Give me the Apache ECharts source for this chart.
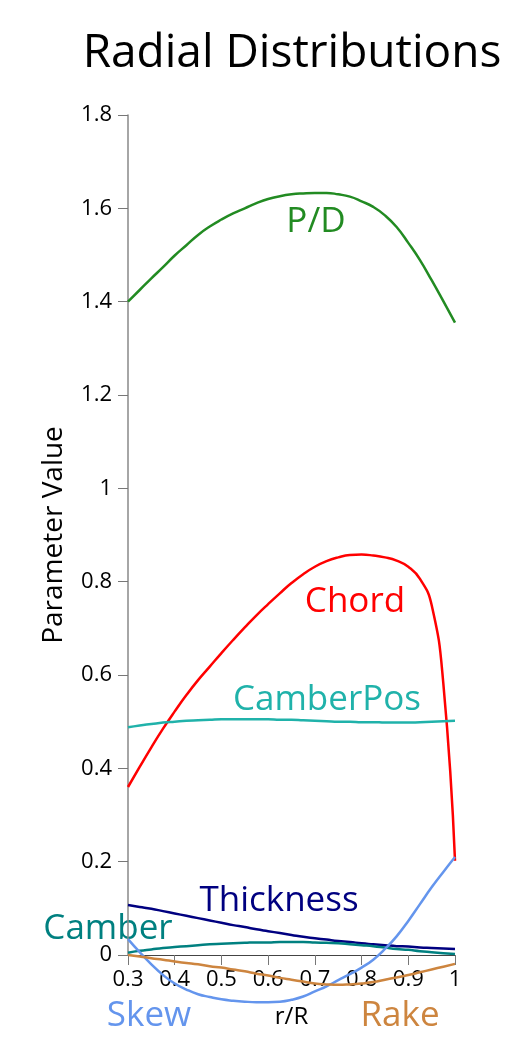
<!DOCTYPE html>
<html>
<head>
<meta charset="utf-8">
<script src="https://cdn.jsdelivr.net/npm/echarts@6/dist/echarts.min.js"></script>
<style>
  html, body { margin: 0; padding: 0; background: #fff; }
  #chart { width: 519px; height: 1049px; }
</style>
</head>
<body>
<div id="chart"></div>
<script>
// r/R stations
const rR = [0.3, 0.325, 0.35, 0.375, 0.4, 0.425, 0.45, 0.475, 0.5, 0.525, 0.55, 0.575, 0.6, 0.625, 0.65,
  0.675, 0.7, 0.725, 0.75, 0.775, 0.8, 0.825, 0.85, 0.875, 0.9, 0.925, 0.95, 0.975, 1.0];

const pitchRatio = [1.400, 1.425, 1.450, 1.474, 1.499, 1.521, 1.543, 1.561, 1.576, 1.589, 1.600, 1.611, 1.620, 1.626, 1.630,
  1.632, 1.633, 1.633, 1.630, 1.625, 1.615, 1.603, 1.585, 1.560, 1.526, 1.489, 1.446, 1.401, 1.355];
const chord = [0.360, 0.403, 0.445, 0.485, 0.522, 0.557, 0.589, 0.618, 0.647, 0.675, 0.702, 0.728, 0.752, 0.775, 0.797,
  0.816, 0.832, 0.844, 0.852, 0.857, 0.858, 0.856, 0.852, 0.845, 0.832, 0.806, 0.750, 0.582, 0.202];
const camberPos = [0.488, 0.492, 0.495, 0.498, 0.500, 0.502, 0.503, 0.504, 0.505, 0.505, 0.505, 0.505, 0.505, 0.504, 0.504,
  0.503, 0.502, 0.501, 0.500, 0.500, 0.499, 0.499, 0.498, 0.498, 0.498, 0.499, 0.500, 0.501, 0.502];
const thickness = [0.107, 0.103, 0.099, 0.094, 0.089, 0.084, 0.079, 0.074, 0.069, 0.064, 0.060, 0.055, 0.051, 0.047, 0.043,
  0.039, 0.036, 0.033, 0.030, 0.028, 0.025, 0.023, 0.021, 0.019, 0.018, 0.016, 0.015, 0.014, 0.013];
const camber = [0.005, 0.009, 0.012, 0.015, 0.017, 0.019, 0.021, 0.023, 0.024, 0.025, 0.026, 0.027, 0.027, 0.028, 0.028,
  0.028, 0.027, 0.026, 0.025, 0.023, 0.021, 0.019, 0.016, 0.013, 0.011, 0.008, 0.006, 0.004, 0.002];
const skew = [0.034, 0.006, -0.020, -0.043, -0.061, -0.074, -0.084, -0.090, -0.095, -0.098, -0.100, -0.101, -0.101, -0.100, -0.096,
  -0.089, -0.078, -0.067, -0.054, -0.041, -0.027, -0.010, 0.013, 0.040, 0.073, 0.109, 0.145, 0.178, 0.210];
const rake = [0.000, -0.003, -0.007, -0.010, -0.014, -0.017, -0.020, -0.024, -0.027, -0.031, -0.035, -0.040, -0.044, -0.049, -0.053,
  -0.057, -0.061, -0.063, -0.064, -0.063, -0.061, -0.058, -0.053, -0.048, -0.043, -0.037, -0.031, -0.025, -0.019];

const yTicks = [0, 0.2, 0.4, 0.6, 0.8, 1, 1.2, 1.4, 1.6, 1.8];

const FONT = '"Open Sans", "Noto Sans", sans-serif';

const curves = [
  { name: 'P/D', values: pitchRatio, color: '#228B22', label: [316, 222] },
  { name: 'Chord', values: chord, color: '#FF0000', label: [355, 602] },
  { name: 'CamberPos', values: camberPos, color: '#20B2AA', label: [327, 700] },
  { name: 'Thickness', values: thickness, color: '#000080', label: [279, 901] },
  { name: 'Camber', values: camber, color: '#008080', label: [108, 929] },
  { name: 'Skew', values: skew, color: '#6495ED', label: [149, 1016] },
  { name: 'Rake', values: rake, color: '#CD853F', label: [400, 1016] }
];

const chart = echarts.init(document.getElementById('chart'), null, { renderer: 'canvas' });

const option = {
  animation: false,
  backgroundColor: '#fff',
  grid: { left: 128, right: 64, top: 115, bottom: 94, containLabel: false },
  xAxis: {
    type: 'value',
    min: 0.3,
    max: 1,
    interval: 0.1,
    name: 'r/R',
    nameLocation: 'middle',
    nameGap: 50,
    nameTextStyle: { color: '#000', fontSize: 24, fontFamily: FONT },
    axisLine: { onZero: false, lineStyle: { color: '#444', width: 1 } },
    axisTick: { show: true, length: 10, lineStyle: { color: '#777' } },
    axisLabel: { color: '#000', fontSize: 22, fontFamily: FONT, margin: 14 },
    splitLine: { show: false }
  },
  yAxis: {
    type: 'value',
    min: yTicks[0],
    max: yTicks[yTicks.length - 1],
    interval: 0.2,
    name: 'Parameter Value',
    nameLocation: 'middle',
    nameGap: 60,
    nameTextStyle: { color: '#000', fontSize: 28, fontFamily: FONT },
    axisLine: { show: true, lineStyle: { color: '#888', width: 1.5 } },
    axisTick: { show: true, length: 10, lineStyle: { color: '#777' } },
    axisLabel: { color: '#000', fontSize: 22, fontFamily: FONT, margin: 16 },
    splitLine: { show: false }
  },
  series: curves.map(c => ({
    name: c.name,
    type: 'line',
    data: rR.map((r, i) => [r, c.values[i]]),
    smooth: true,
    showSymbol: false,
    clip: false,
    lineStyle: { color: c.color, width: 2.5 },
    itemStyle: { color: c.color }
  })),
  graphic: [
    {
      type: 'text',
      x: 292, y: 54,
      style: {
        text: 'Radial Distributions',
        fill: '#000',
        font: '46px ' + FONT,
        align: 'center',
        verticalAlign: 'middle'
      }
    }
  ].concat(curves.map(c => ({
    type: 'text',
    x: c.label[0], y: c.label[1],
    style: {
      text: c.name,
      fill: c.color,
      font: '35px ' + FONT,
      align: 'center',
      verticalAlign: 'middle'
    }
  })))
};

chart.setOption(option);
</script>
</body>
</html>
